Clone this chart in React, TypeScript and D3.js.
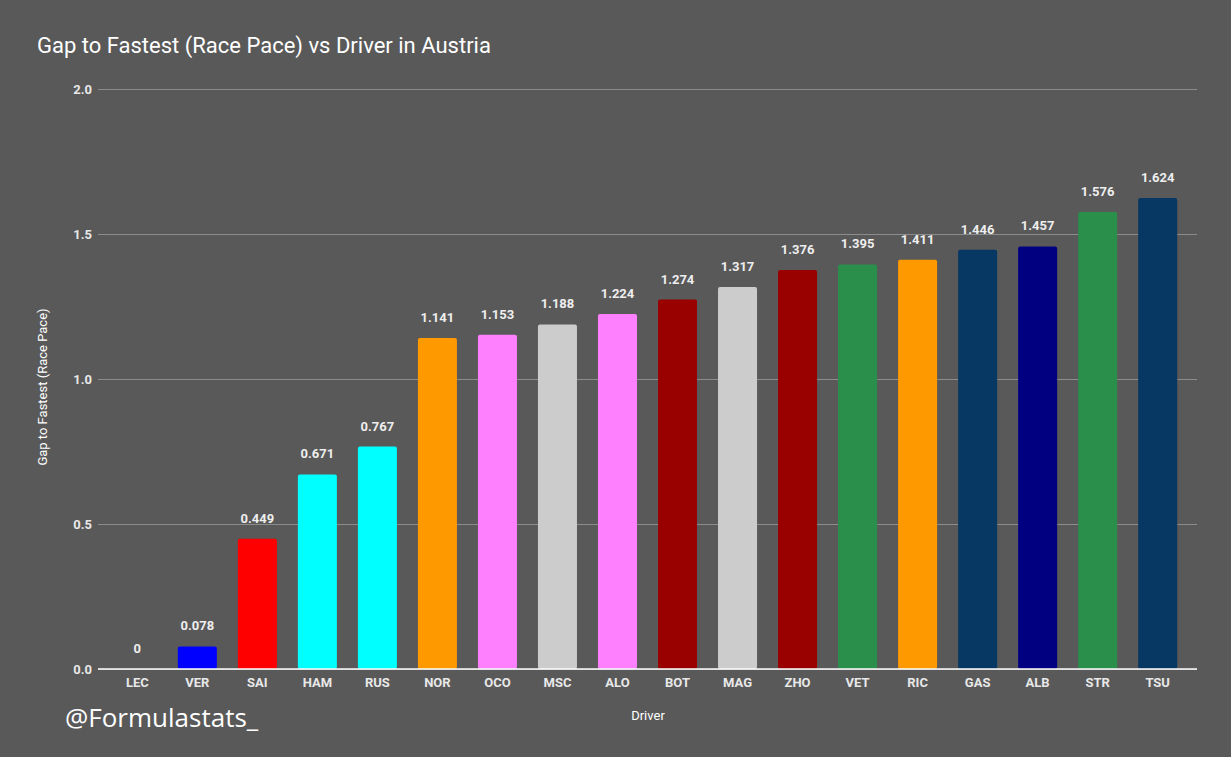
import * as d3 from "d3";
import { useEffect, useRef } from "react";

const drivers = ["LEC", "VER", "SAI", "HAM", "RUS", "NOR", "OCO", "MSC", "ALO", "BOT", "MAG", "ZHO", "VET", "RIC", "GAS", "ALB", "STR", "TSU"];
const gaps = [0, 0.078, 0.449, 0.671, 0.767, 1.141, 1.153, 1.188, 1.224, 1.274, 1.317, 1.376, 1.395, 1.411, 1.446, 1.457, 1.576, 1.624];
const teamColors = ["#ff0000", "#0000ff", "#ff0000", "#00ffff", "#00ffff", "#ff9900", "#ff80ff", "#cccccc", "#ff80ff", "#990000", "#cccccc", "#990000", "#2a8f4b", "#ff9900", "#073763", "#000080", "#2a8f4b", "#073763"];
const yTicks = [0, 0.5, 1.0, 1.5, 2.0];

const W = 1231;
const H = 757;
const margin = { left: 98, right: 34, top: 89, bottom: 88 };

export default function App() {
  const ref = useRef<SVGSVGElement>(null);

  useEffect(() => {
    document.body.style.margin = "0";
    const svg = d3.select(ref.current);
    svg.selectAll("*").remove();

    const x = d3
      .scaleBand()
      .domain(drivers)
      .range([margin.left, W - margin.right])
      .paddingInner(0.35)
      .paddingOuter(0.33);

    const y = d3
      .scaleLinear()
      .domain([0, 2])
      .range([H - margin.bottom, margin.top]);

    svg.append("rect").attr("width", W).attr("height", H).attr("fill", "#595959");

    svg
      .append("text")
      .attr("x", 37)
      .attr("y", 53)
      .attr("fill", "#ffffff")
      .attr("font-size", 22)
      .text("Gap to Fastest (Race Pace) vs Driver in Austria");

    // grid
    const yAxis = svg
      .append("g")
      .attr("transform", `translate(${margin.left},0)`)
      .call(
        d3
          .axisLeft(y)
          .tickValues(yTicks)
          .tickFormat(d3.format(".1f"))
          .tickSize(-(W - margin.left - margin.right))
          .tickPadding(6)
      );
    yAxis.select(".domain").remove();
    yAxis.selectAll(".tick line").attr("stroke", "#8c8c8c").attr("stroke-width", 1);
    yAxis
      .selectAll(".tick text")
      .attr("fill", "#e8e8e8")
      .attr("font-size", 13)
      .attr("font-weight", 700)
      .attr("font-family", "Roboto");

    // bars
    svg
      .append("g")
      .selectAll("rect")
      .data(drivers)
      .join("rect")
      .attr("x", (d) => x(d)!)
      .attr("width", x.bandwidth())
      .attr("y", (d, i) => y(gaps[i]))
      .attr("height", (d, i) => y(0) - y(gaps[i]))
      .attr("rx", 2)
      .attr("fill", (d, i) => teamColors[i]);

    // baseline
    svg
      .append("line")
      .attr("x1", margin.left)
      .attr("x2", W - margin.right)
      .attr("y1", y(0))
      .attr("y2", y(0))
      .attr("stroke", "#ffffff")
      .attr("stroke-width", 1.5);

    // value labels
    svg
      .append("g")
      .selectAll("text")
      .data(drivers)
      .join("text")
      .attr("x", (d) => x(d)! + x.bandwidth() / 2)
      .attr("y", (d, i) => y(gaps[i]) - 16)
      .attr("text-anchor", "middle")
      .attr("fill", "#eeeeee")
      .attr("font-size", 13)
      .attr("font-weight", 700)
      .text((d, i) => String(gaps[i]));

    // x labels
    svg
      .append("g")
      .selectAll("text")
      .data(drivers)
      .join("text")
      .attr("x", (d) => x(d)! + x.bandwidth() / 2)
      .attr("y", 687)
      .attr("text-anchor", "middle")
      .attr("fill", "#e8e8e8")
      .attr("font-size", 13)
      .attr("font-weight", 700)
      .text((d) => d);

    svg
      .append("text")
      .attr("x", 648)
      .attr("y", 720)
      .attr("text-anchor", "middle")
      .attr("fill", "#ffffff")
      .attr("font-size", 13)
      .text("Driver");

    svg
      .append("text")
      .attr("transform", "translate(47,387) rotate(-90)")
      .attr("text-anchor", "middle")
      .attr("fill", "#ffffff")
      .attr("font-size", 13)
      .text("Gap to Fastest (Race Pace)");

    svg
      .append("text")
      .attr("x", 65)
      .attr("y", 727)
      .attr("fill", "#ffffff")
      .attr("font-size", 26)
      .attr("font-family", "'Open Sans', sans-serif")
      .text("@Formulastats_");
  }, []);

  return <svg ref={ref} width={W} height={H} fontFamily="Roboto, sans-serif" style={{ display: "block" }} />;
}
